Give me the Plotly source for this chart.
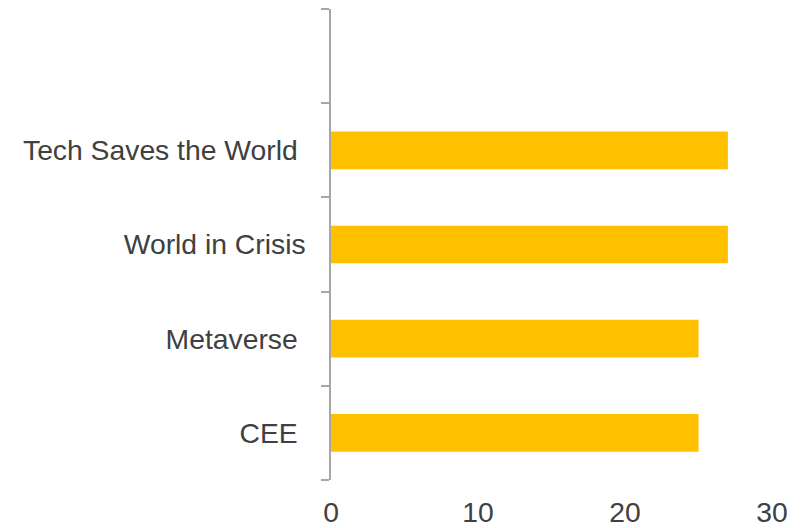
import plotly.graph_objects as go

categories = ["CEE", "Metaverse", "World in Crisis", "Tech Saves the World", " "]
tick_labels = ["CEE\u00a0", "Metaverse\u00a0", "World in Crisis", "Tech Saves the World\u00a0", " "]
values = [25, 25, 27, 27, None]
x_ticks = [0, 10, 20, 30]

fig = go.Figure(go.Bar(
    x=values, y=categories, orientation="h",
    marker=dict(color="#FFC000", line=dict(width=0)),
))

fig.update_layout(
    width=807, height=528,
    margin=dict(l=323, r=43, t=1, b=56),
    paper_bgcolor="white", plot_bgcolor="white",
    bargap=0.6, showlegend=False,
    font=dict(family="Liberation Sans, Arial, sans-serif", size=28.3, color="#404040"),
)
fig.update_xaxes(
    range=[0, 30], tickvals=x_ticks, showgrid=False, zeroline=False,
    showline=False, ticks="", ticklabelstandoff=13,
)
fig.update_yaxes(
    type="category", categoryorder="array", categoryarray=categories,
    tickvals=categories, ticktext=tick_labels,
    range=[-0.5, 4.5], tickson="boundaries", ticks="outside", ticklen=8,
    tickcolor="#A6A6A6", tickwidth=1.5, showline=True, linecolor="#A6A6A6",
    linewidth=1.5, showgrid=False, zeroline=False, ticklabelstandoff=18,
)

fig.write_html("out.html")
